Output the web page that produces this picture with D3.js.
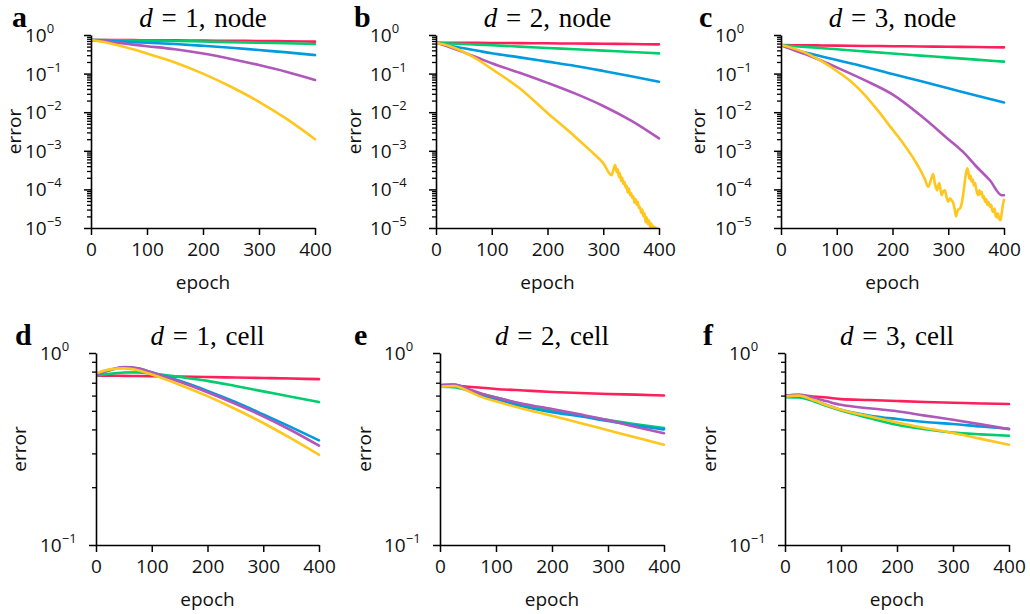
<!DOCTYPE html>
<html><head><meta charset="utf-8">
<script src="https://cdn.jsdelivr.net/npm/d3@7"></script>
<style>body{margin:0;background:#fff}svg{display:block}</style>
</head><body>
<svg id="chart" width="1030" height="614"></svg>
<script>
// ---------------- data ----------------
const epochTicks = [0, 100, 200, 300, 400];
const nodeTickExps = [0, -1, -2, -3, -4, -5];
const cellTickExps = [0, -1];
const seriesNames = ["red", "green", "blue", "purple", "yellow"];
const seriesColors = ["#FF1F5B", "#00CD6C", "#009ADE", "#AF58BA", "#FFC61E"];
const panelLetters = ["a", "b", "c", "d", "e", "f"];
const panelDims = [1, 2, 3, 1, 2, 3];
const panelKinds = ["node", "node", "node", "cell", "cell", "cell"];
const grid = [0, 25, 50, 75, 100, 150, 200, 250, 300, 350, 400];

// panel a: d = 1, node
const aRed    = [0.741, 0.740, 0.738, 0.735, 0.731, 0.724, 0.716, 0.708, 0.700, 0.690, 0.672];
const aGreen  = [0.741, 0.736, 0.730, 0.723, 0.716, 0.700, 0.676, 0.653, 0.631, 0.610, 0.585];
const aBlue   = [0.741, 0.716, 0.684, 0.653, 0.631, 0.582, 0.525, 0.468, 0.407, 0.355, 0.302];
const aPurple = [0.741, 0.684, 0.624, 0.562, 0.513, 0.427, 0.331, 0.240, 0.166, 0.110, 0.0682];
const aYellow = [0.741, 0.646, 0.537, 0.427, 0.331, 0.195, 0.100, 0.0457, 0.0186, 0.0066, 0.0020];

// panel b: d = 2, node
const bRed    = [0.631, 0.629, 0.627, 0.625, 0.622, 0.616, 0.609, 0.600, 0.592, 0.583, 0.573];
const bGreen  = [0.631, 0.605, 0.582, 0.562, 0.543, 0.501, 0.462, 0.427, 0.394, 0.363, 0.335];
const bBlue   = [0.631, 0.525, 0.452, 0.389, 0.335, 0.263, 0.204, 0.158, 0.117, 0.0851, 0.0617];
const bPurple = [0.631, 0.479, 0.355, 0.257, 0.186, 0.105, 0.0575, 0.0302, 0.0145, 0.00603, 0.00209];
const bYellowEpochs = [0, 25, 50, 75, 100, 150, 200, 250, 275, 300, 315, 321,
  322, 324, 326, 328, 330, 332, 334, 336, 338, 340, 342, 344, 346, 348, 350, 352, 354, 356, 358,
  360, 362, 364, 366, 368, 370, 372, 374, 376, 378, 380, 382, 384, 386, 388, 390, 392, 394, 396, 398, 400];
const bYellow = [0.631, 0.513, 0.363, 0.229, 0.132, 0.0417, 0.00955, 0.00229, 0.00107, 0.000479, 0.000234, 0.000427,
  0.000398, 0.000282, 0.000331, 0.000209, 0.000263, 0.000166, 0.000200, 0.000138, 0.000158, 0.000112, 0.000126, 0.000083,
  0.000105, 0.000071, 0.000079, 0.000060, 0.000066, 0.000045, 0.000056, 0.000040, 0.000048, 0.000033, 0.000035, 0.000025,
  0.000030, 0.000020, 0.000024, 0.0000141, 0.000019, 0.0000126, 0.0000158, 0.0000107, 0.0000132, 0.0000095, 0.0000112,
  0.0000089, 0.0000105, 0.0000083, 0.0000095, 0.0000079];

// panel c: d = 3, node
const cRed    = [0.550, 0.545, 0.540, 0.535, 0.531, 0.521, 0.513, 0.505, 0.497, 0.488, 0.479];
const cGreen  = [0.550, 0.513, 0.484, 0.454, 0.427, 0.376, 0.331, 0.293, 0.260, 0.230, 0.204];
const cBlue   = [0.550, 0.417, 0.335, 0.272, 0.224, 0.151, 0.0977, 0.0646, 0.0417, 0.0269, 0.0178];
const cPurpleEpochs = [0, 25, 50, 75, 100, 150, 200, 250, 300, 330, 350, 375, 396, 400];
const cPurple = [0.550, 0.398, 0.295, 0.209, 0.145, 0.0676, 0.0288, 0.00832, 0.00200, 0.000832, 0.000398, 0.000170, 0.0000708, 0.0000708];
const cYellowEpochs = [0, 25, 50, 75, 100, 125, 150, 175, 200, 210, 220, 230, 240, 250, 258, 264,
  269, 273, 276, 278, 280, 282, 284, 286, 288, 291, 294, 297, 300, 303, 306, 309, 312, 314, 316, 318, 321,
  325, 328, 331, 334, 336, 338, 340, 342, 344, 346, 348, 350, 352, 354, 356, 358, 360, 362, 364, 366, 368,
  370, 372, 375, 377, 379, 381, 383, 385, 387, 389, 391, 394, 396, 398, 400];
const cYellow = [0.550, 0.437, 0.316, 0.200, 0.117, 0.0631, 0.0282, 0.0105, 0.00355, 0.00234, 0.00151, 0.000933,
  0.000562, 0.000316, 0.000186, 0.000117,
  0.000178, 0.000251, 0.000141, 0.000112, 0.000095, 0.000126, 0.000145, 0.000100, 0.000071, 0.000089, 0.000095,
  0.000063, 0.000048, 0.000059, 0.000052, 0.000044, 0.000028, 0.000020, 0.000026, 0.000030, 0.000032,
  0.000050, 0.000100, 0.000220, 0.000350, 0.000280, 0.000190, 0.000230, 0.000160, 0.000180, 0.000126, 0.000145,
  0.000105, 0.000079, 0.000071, 0.000095, 0.000076, 0.000087, 0.000060, 0.000066, 0.000048, 0.000056,
  0.000040, 0.000047, 0.000035, 0.000040, 0.000028, 0.000026, 0.000032, 0.000021, 0.000019, 0.000024,
  0.000018, 0.000016, 0.000025, 0.000040, 0.000054];

// panel d: d = 1, cell
const dRed    = [0.762, 0.762, 0.760, 0.759, 0.757, 0.753, 0.750, 0.745, 0.741, 0.736, 0.731];
const dGreen  = [0.762, 0.780, 0.791, 0.793, 0.782, 0.750, 0.716, 0.673, 0.631, 0.592, 0.555];
const dBlue   = [0.767, 0.813, 0.843, 0.832, 0.794, 0.716, 0.635, 0.556, 0.479, 0.411, 0.351];
const dPurple = [0.767, 0.817, 0.845, 0.832, 0.791, 0.708, 0.625, 0.544, 0.468, 0.396, 0.329];
const dYellow = [0.783, 0.822, 0.832, 0.813, 0.773, 0.684, 0.596, 0.511, 0.432, 0.359, 0.295];

// panel e: d = 2, cell
const eRed    = [0.673, 0.676, 0.667, 0.659, 0.650, 0.638, 0.627, 0.619, 0.612, 0.607, 0.601];
const eGreen  = [0.668, 0.664, 0.638, 0.610, 0.586, 0.537, 0.501, 0.473, 0.447, 0.425, 0.406];
const eBlue   = [0.679, 0.684, 0.646, 0.603, 0.575, 0.525, 0.492, 0.468, 0.442, 0.419, 0.400];
const ePurple = [0.681, 0.685, 0.649, 0.614, 0.586, 0.543, 0.511, 0.479, 0.447, 0.412, 0.382];
const eYellow = [0.668, 0.673, 0.634, 0.589, 0.560, 0.511, 0.471, 0.432, 0.396, 0.363, 0.333];

// panel f: d = 3, cell
const fRed    = [0.598, 0.600, 0.594, 0.586, 0.575, 0.569, 0.562, 0.556, 0.551, 0.546, 0.542];
const fGreen  = [0.589, 0.586, 0.562, 0.530, 0.502, 0.459, 0.423, 0.401, 0.385, 0.377, 0.371];
const fBlue   = [0.594, 0.594, 0.569, 0.535, 0.506, 0.473, 0.453, 0.437, 0.427, 0.414, 0.403];
const fPurple = [0.598, 0.607, 0.586, 0.560, 0.537, 0.515, 0.497, 0.472, 0.449, 0.425, 0.401];
const fYellow = [0.594, 0.600, 0.569, 0.535, 0.506, 0.468, 0.435, 0.407, 0.383, 0.357, 0.333];

// ---------------- layout ----------------
const layouts = [
  {x0: 91,  x1: 315,  yb: 228, yt: 35,  errX: 15,  lblX: 12},
  {x0: 436, x1: 659,  yb: 228, yt: 35,  errX: 355, lblX: 354},
  {x0: 781, x1: 1004, yb: 228, yt: 35,  errX: 699, lblX: 699},
  {x0: 96,  x1: 319,  yb: 545, yt: 353, errX: 20,  lblX: 15},
  {x0: 440, x1: 664,  yb: 545, yt: 353, errX: 365, lblX: 354},
  {x0: 785, x1: 1009, yb: 545, yt: 353, errX: 710, lblX: 703}
];

const panelSeries = [
  [[grid, aRed], [grid, aGreen], [grid, aBlue], [grid, aPurple], [grid, aYellow]],
  [[grid, bRed], [grid, bGreen], [grid, bBlue], [grid, bPurple], [bYellowEpochs, bYellow]],
  [[grid, cRed], [grid, cGreen], [grid, cBlue], [cPurpleEpochs, cPurple], [cYellowEpochs, cYellow]],
  [[grid, dRed], [grid, dGreen], [grid, dBlue], [grid, dPurple], [grid, dYellow]],
  [[grid, eRed], [grid, eGreen], [grid, eBlue], [grid, ePurple], [grid, eYellow]],
  [[grid, fRed], [grid, fGreen], [grid, fBlue], [grid, fPurple], [grid, fYellow]]
];

const svg = d3.select("#chart");
const sans = "'Open Sans', 'Noto Sans', sans-serif";
const serif = "'Liberation Serif', 'DejaVu Serif', serif";

panelLetters.forEach((letter, i) => {
  const L = layouts[i];
  const isNode = panelKinds[i] === "node";
  const exps = isNode ? nodeTickExps : cellTickExps;
  const x = d3.scaleLinear().domain([0, 400]).range([L.x0, L.x1]);
  const y = d3.scaleLog().domain([Math.pow(10, d3.min(exps)), 1]).range([L.yb, L.yt]);
  const g = svg.append("g");

  const clipId = "clip" + letter;
  svg.append("clipPath").attr("id", clipId).append("rect")
    .attr("x", L.x0).attr("y", L.yt - 2).attr("width", L.x1 - L.x0 + 2).attr("height", L.yb - L.yt + 2);

  const line = d3.line().x(d => x(d[0])).y(d => y(d[1])).curve(d3.curveMonotoneX);
  const lg = g.append("g").attr("clip-path", `url(#${clipId})`);
  panelSeries[i].forEach(([ep, vals], k) => {
    lg.append("path")
      .datum(ep.map((e, j) => [e, vals[j]]))
      .attr("d", line)
      .attr("fill", "none")
      .attr("stroke", seriesColors[k])
      .attr("stroke-width", 2.6)
      .attr("stroke-linejoin", "round")
      .attr("stroke-linecap", "round");
  });

  const minor = [];
  exps.slice(0, -1).forEach(e => { for (let m = 2; m <= 9; m++) minor.push(m * Math.pow(10, e - 1)); });
  const yMinor = d3.axisLeft(y).tickValues(minor).tickSize(4).tickSizeOuter(0).tickFormat("");
  g.append("g").attr("transform", `translate(${L.x0},0)`).call(yMinor)
    .call(s => s.selectAll("line").attr("stroke", "#000").attr("stroke-width", 1.3))
    .call(s => s.select(".domain").remove());
  const yMajor = d3.axisLeft(y).tickValues(exps.map(e => Math.pow(10, e))).tickSize(7).tickSizeOuter(0).tickFormat("");
  g.append("g").attr("transform", `translate(${L.x0},0)`).call(yMajor)
    .call(s => s.selectAll("line").attr("stroke", "#000").attr("stroke-width", 1.5))
    .call(s => s.select(".domain").attr("stroke", "#000").attr("stroke-width", 1.6));

  const labOff = isNode ? 66 : 56;
  exps.forEach(e => {
    const t = g.append("text").attr("x", L.x0 - labOff).attr("y", y(Math.pow(10, e)) + 7)
      .attr("font-family", sans).attr("font-size", 19).attr("fill", "#111");
    t.append("tspan").text("10");
    t.append("tspan").attr("dy", -9).attr("font-size", 13).text(e === 0 ? "0" : "\u2212" + (-e));
  });

  const xAxis = d3.axisBottom(x).tickValues(epochTicks).tickSize(7).tickSizeOuter(0).tickPadding(8);
  g.append("g").attr("transform", `translate(0,${L.yb})`).call(xAxis)
    .call(s => s.selectAll("line").attr("stroke", "#000").attr("stroke-width", 1.5))
    .call(s => s.select(".domain").attr("stroke", "#000").attr("stroke-width", 1.6))
    .call(s => s.selectAll("text").attr("font-family", sans).attr("font-size", 19).attr("fill", "#111"));

  const cx = (L.x0 + L.x1) / 2;
  g.append("text").attr("x", cx).attr("y", L.yb + 61).attr("text-anchor", "middle")
    .attr("font-family", sans).attr("font-size", 19).attr("fill", "#111").text("epoch");
  g.append("text").attr("transform", `translate(${L.errX + 6},${(L.yt + L.yb) / 2}) rotate(-90)`)
    .attr("text-anchor", "middle").attr("font-family", sans).attr("font-size", 19).attr("fill", "#111").text("error");

  const ty = isNode ? 27 : 345;
  const title = g.append("text").attr("x", cx).attr("y", ty).attr("text-anchor", "middle")
    .attr("font-family", serif).attr("font-size", 27).attr("word-spacing", 2).attr("fill", "#000");
  title.append("tspan").attr("font-style", "italic").text("d");
  title.append("tspan").text(" = " + panelDims[i] + ", " + panelKinds[i]);

  g.append("text").attr("x", L.lblX).attr("y", ty).attr("font-family", serif)
    .attr("font-weight", "bold").attr("font-size", 30).attr("fill", "#000").text(letter);
});
</script>
</body></html>
